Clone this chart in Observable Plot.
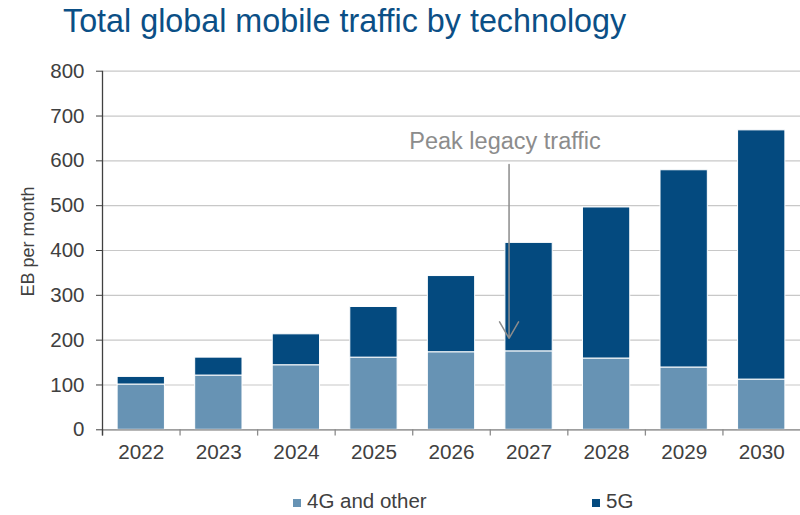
<!DOCTYPE html>
<html><head><meta charset="utf-8">
<script src="https://cdn.jsdelivr.net/npm/d3@7"></script>
<script src="https://cdn.jsdelivr.net/npm/@observablehq/plot@0.6"></script>
<style>
body{margin:0;width:800px;height:515px;position:relative;background:#fff;font-family:"Liberation Sans",Arial,sans-serif;overflow:hidden}
#title{position:absolute;left:63px;top:5px;font-size:32.3px;line-height:1;color:#0b4f86;white-space:nowrap}
#chart{position:absolute;left:0;top:50px}
.leg{position:absolute;top:491px;font-size:20.5px;line-height:20px;color:#404040;white-space:nowrap}
.sw{display:inline-block;width:8px;height:8px;margin-right:6px;vertical-align:1px}
</style></head>
<body>
<div id="title">Total global mobile traffic by technology</div>
<div id="chart"></div>
<div class="leg" id="leg1" style="left:293px"></div>
<div class="leg" id="leg2" style="left:592px"></div>
<script>
const years = ["2022","2023","2024","2025","2026","2027","2028","2029","2030"];
const legacy = [101,121,144,161,173,175,159,139,112];
const fiveG = [17,40,69,113,170,242,337,440,556];
const series = ["4G and other","5G"];
const colors = ["#6793b4","#044a7f"];
const yTicks = [0,100,200,300,400,500,600,700,800];
const annotation = "Peak legacy traffic";

const data = [];
years.forEach((y,i)=>{
  data.push({year:y, series:series[0], value:legacy[i]});
  data.push({year:y, series:series[1], value:fiveG[i]});
});

const W = 800, mL = 102, mR = 0;
const step = (W - mL - mR) / years.length;

const chart = Plot.plot({
  width: W, height: 420,
  marginLeft: mL, marginRight: mR, marginTop: 20.7, marginBottom: 40.7,
  style: {fontFamily: '"Liberation Sans", Arial, sans-serif', fontSize: "20px", color: "#404040", background: "#fff"},
  x: {domain: years, paddingInner: 0.39, paddingOuter: 0.195, round: false, label: null},
  y: {domain: [0, 800], label: null},
  color: {domain: series, range: colors},
  marks: [
    Plot.gridY(yTicks, {stroke: "#c8c8c8", strokeOpacity: 1, strokeWidth: 1.2}),
    Plot.barY(data, {x: "year", y: "value", fill: "series", stroke: "white", strokeWidth: 1}),
    Plot.ruleY([0], {stroke: "#8c8c8c", strokeWidth: 1.3}),
    Plot.ruleX(years, {x: d => d, dx: -step/2, y1: 0, y2: -14, stroke: "#8c8c8c", strokeWidth: 1.3}),
    Plot.ruleX(["2022"], {x: d => d, dx: -step/2, y1: -14, y2: 800, stroke: "#404040", strokeWidth: 1.3}),
    Plot.axisY(yTicks, {tickSize: 6, tickPadding: 12, label: null, fontSize: 20.5}),
    Plot.axisX({tickSize: 0, tickPadding: 14, label: null, fontSize: 20.7}),
    Plot.text(["EB per month"], {frameAnchor: "left", y: 420, dx: -74, rotate: -90, textAnchor: "middle", fontSize: 18, fill: "#404040"}),
    Plot.text([annotation], {x: () => "2027", y: 643, dx: -24, fontSize: 23.5, fill: "#8c8c8c"}),
    Plot.arrow([annotation], {x1: () => "2027", x2: () => "2027", y1: 592, y2: 204, dx: -20, stroke: "#8c8c8c", strokeWidth: 1.5, headLength: 19, headAngle: 60})
  ]
});
document.getElementById("chart").appendChild(chart);

document.getElementById("leg1").innerHTML = `<span class="sw" style="background:${colors[0]}"></span>${series[0]}`;
document.getElementById("leg2").innerHTML = `<span class="sw" style="background:${colors[1]}"></span>${series[1]}`;
</script>
</body></html>
